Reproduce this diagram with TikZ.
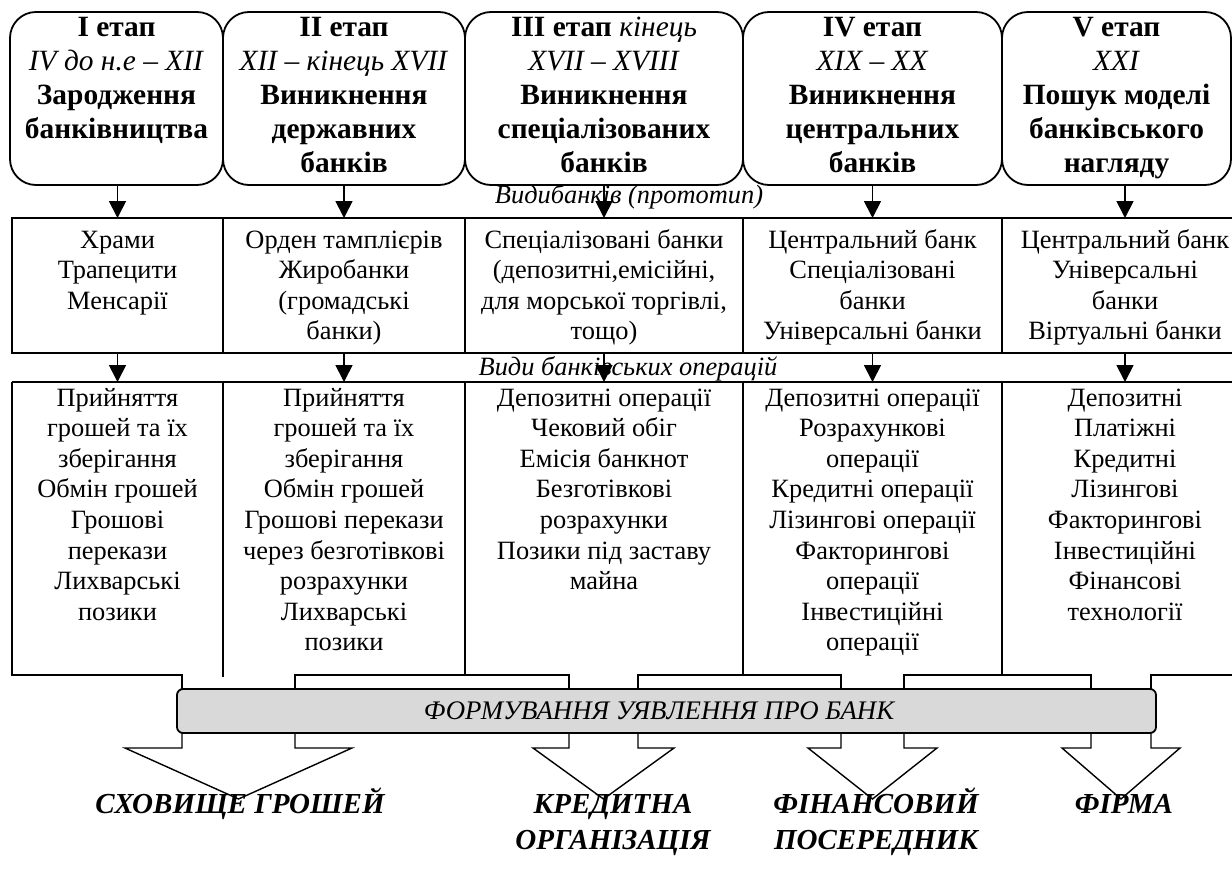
\documentclass[tikz,border=0pt]{standalone}
\usepackage{fontspec}
\setmainfont{Liberation Serif}
\usetikzlibrary{arrows.meta}
\definecolor{barfill}{HTML}{D9D9D9}
\newcommand{\hstr}{\rule{0pt}{1em}}
\begin{document}
\begin{tikzpicture}[x=1pt,y=-1pt,
  every node/.style={inner sep=0pt,outer sep=0pt},
  hbox/.style={draw,line width=1.8pt,rounded corners=26pt,minimum height=173pt,anchor=north west},
  cell/.style={draw,line width=1.8pt,minimum height=135pt,anchor=north west},
  cellc/.style={minimum height=293pt,anchor=north west},
  htext/.style={anchor=north,align=center,font=\fontsize{29.4}{34}\selectfont},
  ttwo/.style={anchor=north,align=center,font=\fontsize{26.4}{30.6}\selectfont},
  tthree/.style={anchor=north,align=center,font=\fontsize{26.4}{30.6}\selectfont},
  lbl/.style={anchor=base,font=\fontsize{26.4}{30}\selectfont\itshape},
  barlbl/.style={anchor=base,font=\fontsize{26.8}{30}\selectfont\itshape},
  arr/.style={line width=1.8pt,-{Triangle[width=17pt,length=17pt]}},
  outl/.style={line width=1.8pt},
  bigarrow/.style={line width=1.4pt},
  bar/.style={draw,line width=1.8pt,fill=barfill,rounded corners=6pt,minimum width=979pt,minimum height=44pt},
  res/.style={anchor=north,align=center,font=\fontsize{29}{36}\selectfont\bfseries\itshape},
]
\useasboundingbox (0,0) rectangle (1232,878);
\clip (0,0) rectangle (1232,878);

% header boxes
\node[hbox,minimum width=213pt] (h1) at (10,12) {};
\node[hbox,minimum width=242pt] (h2) at (223,12) {};
\node[hbox,minimum width=278pt] (h3) at (465,12) {};
\node[hbox,minimum width=259pt] (h4) at (743,12) {};
\node[hbox,minimum width=229pt] (h5) at (1002,12) {};

\node[htext] (h1t) at (116.5,6.6) {\hstr\textbf{I етап}\\\textit{IV до н.е – XII}\\\textbf{Зародження}\\\textbf{банківництва}};
\node[htext] (h2t) at (344,6.6) {\hstr\textbf{II етап}\\\textit{XII – кінець XVII}\\\textbf{Виникнення}\\\textbf{державних}\\\textbf{банків}};
\node[htext] (h3t) at (604,6.6) {\hstr\textbf{III етап} \textit{кінець}\\\textit{XVII – XVIII}\\\textbf{Виникнення}\\\textbf{спеціалізованих}\\\textbf{банків}};
\node[htext] (h4t) at (872.5,6.6) {\hstr\textbf{IV етап}\\\textit{XIX – XX}\\\textbf{Виникнення}\\\textbf{центральних}\\\textbf{банків}};
\node[htext] (h5t) at (1116.5,6.6) {\hstr\textbf{V етап}\\\textit{XXI}\\\textbf{Пошук моделі}\\\textbf{банківського}\\\textbf{нагляду}};

% row 2
\node[cell,minimum width=211pt] (r1) at (12,218) {};
\node[cell,minimum width=242pt] (r2) at (223,218) {};
\node[cell,minimum width=278pt] (r3) at (465,218) {};
\node[cell,minimum width=259pt] (r4) at (743,218) {};
\node[cell,minimum width=246pt] (r5) at (1002,218) {};

\node[ttwo] (r1t) at (r1.north |- 0,221.6) {\hstr Храми\\Трапецити\\Менсарії};
\node[ttwo] (r2t) at (r2.north |- 0,221.6) {\hstr Орден тамплієрів\\Жиробанки\\(громадські\\банки)};
\node[ttwo] (r3t) at (r3.north |- 0,221.6) {\hstr Спеціалізовані банки\\(депозитні,емісійні,\\для морської торгівлі,\\тощо)};
\node[ttwo] (r4t) at (r4.north |- 0,221.6) {\hstr Центральний банк\\Спеціалізовані\\банки\\Універсальні банки};
\node[ttwo] (r5t) at (r5.north |- 0,221.6) {\hstr Центральний банк\\Універсальні\\банки\\Віртуальні банки};

% row 3 (cells for naming)
\node[cellc,minimum width=211pt] (o1) at (12,382) {};
\node[cellc,minimum width=242pt] (o2) at (223,382) {};
\node[cellc,minimum width=278pt] (o3) at (465,382) {};
\node[cellc,minimum width=259pt] (o4) at (743,382) {};
\node[cellc,minimum width=246pt] (o5) at (1002,382) {};

\node[tthree] (o1t) at (o1.north |- 0,379.6) {\hstr Прийняття\\грошей та їх\\зберігання\\Обмін грошей\\Грошові\\перекази\\Лихварські\\позики};
\node[tthree] (o2t) at (o2.north |- 0,379.6) {\hstr Прийняття\\грошей та їх\\зберігання\\Обмін грошей\\Грошові перекази\\через безготівкові\\розрахунки\\Лихварські\\позики};
\node[tthree] (o3t) at (o3.north |- 0,379.6) {\hstr Депозитні операції\\Чековий обіг\\Емісія банкнот\\Безготівкові\\розрахунки\\Позики під заставу\\майна};
\node[tthree] (o4t) at (o4.north |- 0,379.6) {\hstr Депозитні операції\\Розрахункові\\операції\\Кредитні операції\\Лізингові операції\\Факторингові\\операції\\Інвестиційні\\операції};
\node[tthree] (o5t) at (o5.north |- 0,379.6) {\hstr Депозитні\\Платіжні\\Кредитні\\Лізингові\\Факторингові\\Інвестиційні\\Фінансові\\технології};

% row 3 outline
\draw[outl] (12,382) -- (1250,382);
\draw[outl] (12,382) -- (12,675) -- (182,675) -- (182,689);
\draw[outl] (223,382) -- (223,677);
\draw[outl] (465,382) -- (465,675);
\draw[outl] (743,382) -- (743,675);
\draw[outl] (1002,382) -- (1002,675);
\draw[outl] (295,689) -- (295,675) -- (569,675) -- (569,689);
\draw[outl] (638,689) -- (638,675) -- (841,675) -- (841,689);
\draw[outl] (904,689) -- (904,675) -- (1091,675) -- (1091,689);
\draw[outl] (1151,689) -- (1151,675) -- (1250,675);

% labels between rows
\node[lbl] (l1) at (629,203) {Видибанків (прототип)};
\node[lbl] (l2) at (628,375) {Види банківських операцій};

% arrows
\foreach \i in {1,...,5}{
  \draw[arr] (r\i.north |- h\i.south) -- (r\i.north);
  \draw[arr] (r\i.south) -- (o\i.north);
}

% big arrows
\draw[bigarrow] (182,733) -- (182,748) -- (125,748) -- (238.5,799) -- (352,748) -- (295,748) -- (295,733);
\draw[bigarrow] (569,733) -- (569,748) -- (533,748) -- (603.5,799) -- (674,748) -- (638,748) -- (638,733);
\draw[bigarrow] (841,733) -- (841,748) -- (808,748) -- (872.5,799) -- (937,748) -- (904,748) -- (904,733);
\draw[bigarrow] (1091,733) -- (1091,748) -- (1062,748) -- (1121,799) -- (1180,748) -- (1151,748) -- (1151,733);

% bar
\node[bar] (bar) at (666.5,711) {};
\node[barlbl] (bart) at (659,719) {ФОРМУВАННЯ УЯВЛЕННЯ ПРО БАНК};

% results
\node[res] (s1) at (240,784) {\hstr СХОВИЩЕ ГРОШЕЙ};
\node[res] (s2) at (613,784) {\hstr КРЕДИТНА\\ОРГАНІЗАЦІЯ};
\node[res] (s3) at (876,784) {\hstr ФІНАНСОВИЙ\\ПОСЕРЕДНИК};
\node[res] (s4) at (1124,784) {\hstr ФІРМА};
\end{tikzpicture}
\end{document}
